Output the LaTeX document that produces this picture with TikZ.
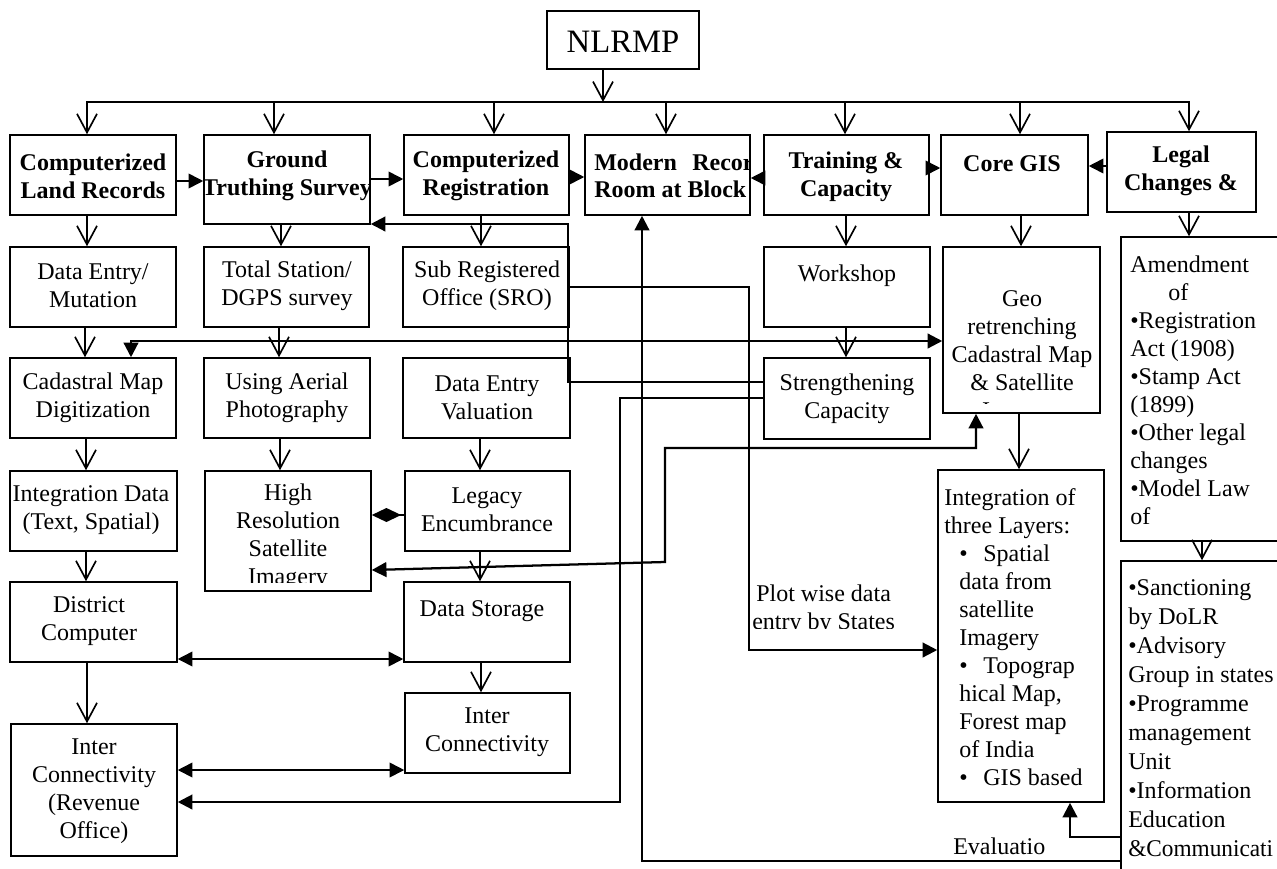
\documentclass[tikz,border=0pt]{standalone}
\usepackage{fontspec}
\setmainfont{Liberation Serif}
\usetikzlibrary{arrows.meta,fit}
\begin{document}
\begin{tikzpicture}[x=0.75pt,y=-0.75pt,
  bx/.style={draw, line width=1.15pt, inner sep=0pt},
  txt/.style={inner sep=0pt, align=center, font=\fontsize{18}{21}\selectfont},
  btxt/.style={inner sep=0pt, align=center, font=\fontsize{18}{21}\selectfont\bfseries},
  ltxt/.style={inner sep=0pt, align=left, font=\fontsize{18}{21}\selectfont},
  varrow/.style={line width=1.25pt, -{Straight Barb[length=14pt,width=15pt]}},
  conn/.style={line width=1.25pt},
  thk/.style={line width=1.7pt},
  >={Triangle[length=11pt,width=11pt]}]
\useasboundingbox (0,0) rectangle (1277,868);
\fill[white] (0,0) rectangle (1277,868);
\clip (0,0) rectangle (1277,868);

% ---------- boxes ----------
\node[bx, fit={(547,11)(699,69)}] (N) {};
\node[bx, fit={(10,135)(176,215)}] (A1) {};
\node[bx, fit={(204,135)(370,224)}] (A2) {};
\node[bx, fit={(404,135)(569,215)}] (A3) {};
\node[bx, fit={(585,135)(750,215)}] (A4) {};
\node[bx, fit={(764,135)(929,215)}] (A5) {};
\node[bx, fit={(941,135)(1088,215)}] (A6) {};
\node[bx, fit={(1107,132)(1256,212)}] (A7) {};
\node[bx, fit={(10,247)(176,327)}] (B1) {};
\node[bx, fit={(204,247)(369,327)}] (B2) {};
\node[bx, fit={(403,247)(569,327)}] (B3) {};
\node[bx, fit={(764,247)(930,327)}] (B5) {};
\node[bx, fit={(943,247)(1100,413)}] (Geo) {};
\node[bx, fit={(10,358)(176,438)}] (C1) {};
\node[bx, fit={(204,358)(370,438)}] (C2) {};
\node[bx, fit={(403,358)(570,438)}] (C3) {};
\node[bx, fit={(764,358)(930,439)}] (Str) {};
\node[bx, fit={(10,471)(177,551)}] (D1) {};
\node[bx, fit={(205,471)(371,591)}] (D2) {};
\node[bx, fit={(405,471)(570,551)}] (D3) {};
\node[bx, fit={(10,582)(177,662)}] (E1) {};
\node[bx, fit={(404,582)(570,662)}] (E3) {};
\node[bx, fit={(405,693)(570,773)}] (F3) {};
\node[bx, fit={(11,724)(177,856)}] (F1) {};
\node[bx, fit={(938,470)(1104,802)}] (Int) {};
\node[bx, fit={(1121,237)(1300,541)}] (Amd) {};
\node[bx, fit={(1121,561)(1300,890)}] (San) {};

% ---------- texts ----------
\node[font=\fontsize{24.5}{28}\selectfont, inner sep=0pt, anchor=base] (Nt) at (623,52) {NLRMP};
\node[btxt] (A1t) at (93,176) {Computerized\\Land Records};
\begin{scope}
\clip (204,135) rectangle (370,224);
\node[btxt] (A2t) at (287,176) {Ground\\Truthing Survey};
\end{scope}
\node[btxt] (A3t) at (486,176) {Computerized\\Registration};
\begin{scope}
\clip (585,135) rectangle (750,215);
\node[btxt, anchor=base west] (A4ta) at (594,170) {Modern};
\node[btxt, anchor=base west] (A4tb) at (692,170) {Record};
\node[btxt, anchor=base west] (A4tc) at (594,197) {Room at Block};
\end{scope}
\node[btxt] (A5t) at (846,177) {Training \&\\Capacity};
\node[btxt, anchor=base] (A6t) at (1012,171) {Core GIS};
\node[btxt] (A7t) at (1181,171) {Legal\\Changes \&};

\node[txt] (B1t) at (93,286) {Data Entry/\\Mutation};
\node[txt] (B2t) at (287,286) {Total Station/\\DGPS survey};
\node[txt] (B3t) at (487,286) {Sub Registered\\Office (SRO)};
\node[txt, anchor=base] (B5t) at (847,281) {Workshop};
\begin{scope}
\clip (943,247) rectangle (1100,403);
\node[txt] (Geot) at (1022,357) {Geo\\retrenching\\Cadastral Map\\\& Satellite\\Imagery};
\end{scope}

\node[txt] (C1t) at (93,397.5) {Cadastral Map\\Digitization};
\node[txt] (C2t) at (287,397.5) {Using Aerial\\Photography};
\node[txt] (C3t) at (487,397.5) {Data Entry\\Valuation};
\node[txt] (Strt) at (847,399) {Strengthening\\Capacity};

\node[txt] (D1t) at (91,510) {Integration Data\\(Text, Spatial)};
\begin{scope}
\clip (205,471) rectangle (371,582);
\node[txt] (D2t) at (288,537) {High\\Resolution\\Satellite\\Imagery};
\end{scope}
\node[txt] (D3t) at (487,510) {Legacy\\Encumbrance};

\node[txt] (E1t) at (89,621.5) {District\\Computer};
\node[txt, anchor=base] (E3t) at (482,616) {Data Storage};
\node[txt] (F3t) at (487,732.5) {Inter\\Connectivity};
\node[txt] (F1t) at (94,791) {Inter\\Connectivity\\(Revenue\\Office)};

\node[ltxt, anchor=west] (Intt) at (944,637) {Integration of\\three Layers:\\
\hspace*{11.25pt}\makebox[18pt][l]{•}Spatial\\
\hspace*{11.25pt}data from\\
\hspace*{11.25pt}satellite\\
\hspace*{11.25pt}Imagery\\
\hspace*{11.25pt}\makebox[18pt][l]{•}Topograp\\
\hspace*{11.25pt}hical Map,\\
\hspace*{11.25pt}Forest map\\
\hspace*{11.25pt}of India\\
\hspace*{11.25pt}\makebox[18pt][l]{•}GIS based};

\node[ltxt, anchor=west] (Amdt) at (1130,390.5) {Amendment\\\hspace*{28.5pt}of\\•Registration\\Act (1908)\\•Stamp Act\\(1899)\\•Other legal\\changes\\•Model Law\\of};
\node[ltxt, font=\fontsize{18}{21.7}\selectfont, anchor=west] (Sant) at (1128,718) {•Sanctioning\\by DoLR\\•Advisory\\Group in states\\•Programme\\management\\Unit\\•Information\\Education\\\scalebox{0.97}[1]{\&Communicati}};

\begin{scope}
\clip (750,570) rectangle (935,628);
\node[ltxt, anchor=west] (Plott) at (752,610) {\hspace*{3pt}Plot wise data\\entry by States};
\end{scope}
\node[txt, anchor=base west] (Evalt) at (953,854) {Evaluatio};

% ---------- top bar ----------
\coordinate (barL) at (86,102);
\coordinate (barR) at (1190,102);
\draw[varrow] (603,0 |- N.south) -- (603,0 |- barL);
\draw[conn] (barL) -- (barR);
\foreach \xx/\nn in {87/A1,274/A2,494/A3,666/A4,845/A5,1020/A6,1189/A7}
  \draw[varrow] (\xx,0 |- barL) -- (\xx,0 |- \nn.north);

% ---------- row 1 links ----------
\draw[conn,->] (A1.east |- 0,181) -- (A2.west |- 0,181);
\draw[conn,->] (A2.east |- 0,179) -- (A3.west |- 0,179);
\draw[conn,->] (A3.east |- 0,177) -- (A4.west |- 0,177);
\draw[conn,->] (A5.west |- 0,178) -- (A4.east |- 0,178);
\draw[conn,->] (A5.east |- 0,168) -- (A6.west |- 0,168);
\draw[conn,->] (A7.west |- 0,166) -- (A6.east |- 0,166);

% ---------- column arrows ----------
\draw[varrow] (87,0 |- A1.south) -- (87,0 |- B1.north);
\draw[varrow] (281,0 |- A2.south) -- (281,0 |- B2.north);
\draw[varrow] (481,0 |- A3.south) -- (481,0 |- B3.north);
\draw[varrow] (85,0 |- B1.south) -- (85,0 |- C1.north);
\draw[varrow] (279,0 |- B2.south) -- (279,0 |- C2.north);
\draw[varrow] (86,0 |- C1.south) -- (86,0 |- D1.north);
\draw[varrow] (280,0 |- C2.south) -- (280,0 |- D2.north);
\draw[varrow] (480,0 |- C3.south) -- (480,0 |- D3.north);
\draw[varrow] (86,0 |- D1.south) -- (86,0 |- E1.north);
\draw[varrow] (480,0 |- D3.south) -- (480,0 |- E3.north);
\draw[varrow] (87,0 |- E1.south) -- (87,0 |- F1.north);
\draw[varrow] (481,0 |- E3.south) -- (481,0 |- F3.north);
\draw[varrow] (846,0 |- A5.south) -- (846,0 |- B5.north);
\draw[varrow] (846,0 |- B5.south) -- (846,0 |- Str.north);
\draw[varrow] (1021,0 |- A6.south) -- (1021,0 |- Geo.north);
\draw[varrow] (1019,0 |- Geo.south) -- (1019,0 |- Int.north);
\draw[varrow] (1189,0 |- A7.south) -- (1189,0 |- Amd.north);
\draw[varrow] (1202,0 |- Amd.south) -- (1202,0 |- San.north);

% ---------- other links ----------
\draw[conn,-{Diamond[length=22pt,width=10.5pt]}] (D3.west |- 0,515) -- (D2.east |- 0,515);
\draw[conn,<->] (E1.east |- 0,659) -- (E3.west |- 0,659);
\draw[conn,<->] (F1.east |- 0,770) -- (F3.west |- 0,770);

\draw[thk,->] (B3.east |- 0,287) -- (749,287) -- (749,650) -- (Int.west |- 0,650);
\draw[thk,->] (Str.west |- 0,382) -- (568,382) -- (568,224) -- (A2.east |- 0,224);
\draw[thk,->] (Str.west |- 0,398) -- (620,398) -- (620,802) -- (F1.east |- 0,802);
\draw[thk,->] (San.west |- 0,861) -- (642,861) -- (642,0 |- A4.south);
\draw[thk,->] (San.west |- 0,837) -- (1070,837) -- (1070,0 |- Int.south);
\draw[thk,<->] (131,0 |- C1.north) -- (131,341) -- (Geo.west |- 0,341);
\draw[thk,<->] (976,0 |- Geo.south) -- (976,448) -- (665,448) -- (665,562) -- (D2.east |- 0,570);
\end{tikzpicture}
\end{document}
